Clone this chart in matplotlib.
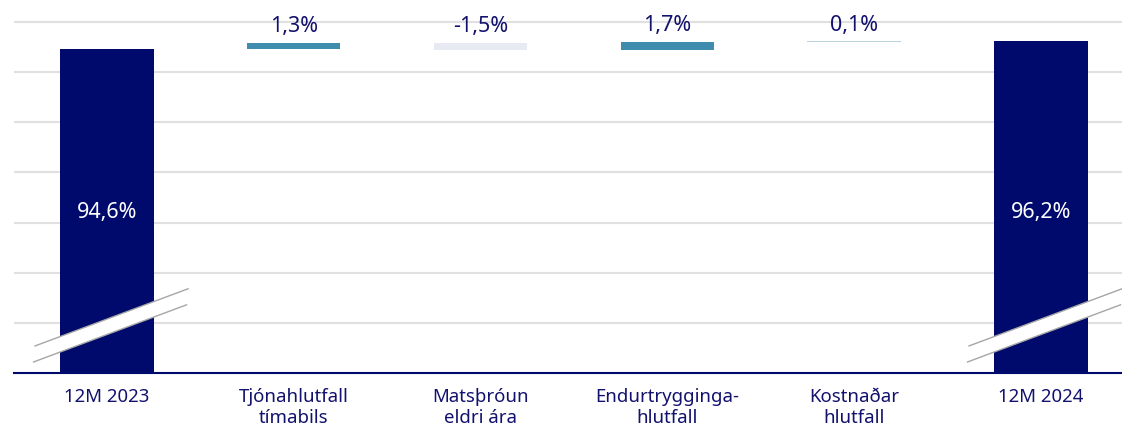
import matplotlib.pyplot as plt
from matplotlib.patches import Polygon

# Waterfall data (combined ratio)
categories = ['12M 2023', 'Tjónahlutfall\ntímabils', 'Matsþróun\neldri ára',
              'Endurtrygginga-\nhlutfall', 'Kostnaðar\nhlutfall', '12M 2024']
start_value = 94.6
changes = [1.3, -1.5, 1.7, 0.1]
end_value = 96.2

navy = '#000A6C'
change_colors = ['#3F8CAF', '#E7EAF2', '#3F8CAF', '#B9D3DE']
text_col = '#12126E'

plt.rcParams['font.family'] = ['Noto Sans', 'DejaVu Sans']

fig = plt.figure(figsize=(11.22, 4.28), dpi=100)
ax = fig.add_axes([0.0121, 0.1285, 0.9989, 0.8715])

base = 30
width = 0.5

# totals
ax.bar(0, start_value - base, bottom=base, width=width, color=navy, zorder=2)
ax.bar(len(categories) - 1, end_value - base, bottom=base, width=width, color=navy, zorder=2)
for i, v in [(0, start_value), (len(categories) - 1, end_value)]:
    ax.text(i, 62.0, f'{v:.1f}%'.replace('.', ','), color='white',
            ha='center', va='center', fontsize=15.5, zorder=5)

# floating bars
level = start_value
for i, c in enumerate(changes, start=1):
    bottom = level if c > 0 else level + c
    ax.bar(i, abs(c), bottom=bottom, width=width, color=change_colors[i - 1],
           linewidth=0, zorder=2)
    top = max(level, level + c)
    ax.annotate(f'{c:.1f}%'.replace('.', ','), (i, top), xytext=(0, 4),
                textcoords='offset points', ha='center', va='bottom',
                color=text_col, fontsize=15.5)
    level += c

# axis break marks on the total bars
for i in [0, len(categories) - 1]:
    x0, x1 = i - 0.385, i + 0.434
    band = Polygon([(x0, 35.4), (x1, 46.8), (x1 - 0.008, 43.6), (x0 - 0.008, 32.2)],
                   closed=True, facecolor='white', edgecolor='none', zorder=3)
    ax.add_patch(band)
    ax.plot([x0, x1], [35.4, 46.8], color='#A6A6A6', lw=1, zorder=4)
    ax.plot([x0 - 0.008, x1 - 0.008], [32.2, 43.6], color='#A6A6A6', lw=1, zorder=4)

ax.set_xlim(-0.5, len(categories) - 0.5)
ax.set_ylim(base, 104.4)
ax.set_yticks(range(40, 101, 10))
ax.yaxis.grid(True, color='#E0E0E0', lw=1.5, zorder=0)
ax.set_axisbelow(True)
ax.tick_params(left=False, labelleft=False, bottom=False)
ax.set_xticks(range(len(categories)))
ax.set_xticklabels(categories, color=text_col, fontsize=13.4, linespacing=1.22)
ax.tick_params(axis='x', pad=7)
for s in ['top', 'right', 'left']:
    ax.spines[s].set_visible(False)
ax.spines['bottom'].set_color(navy)
ax.spines['bottom'].set_linewidth(1.5)

fig.savefig('out.png', dpi=100)
